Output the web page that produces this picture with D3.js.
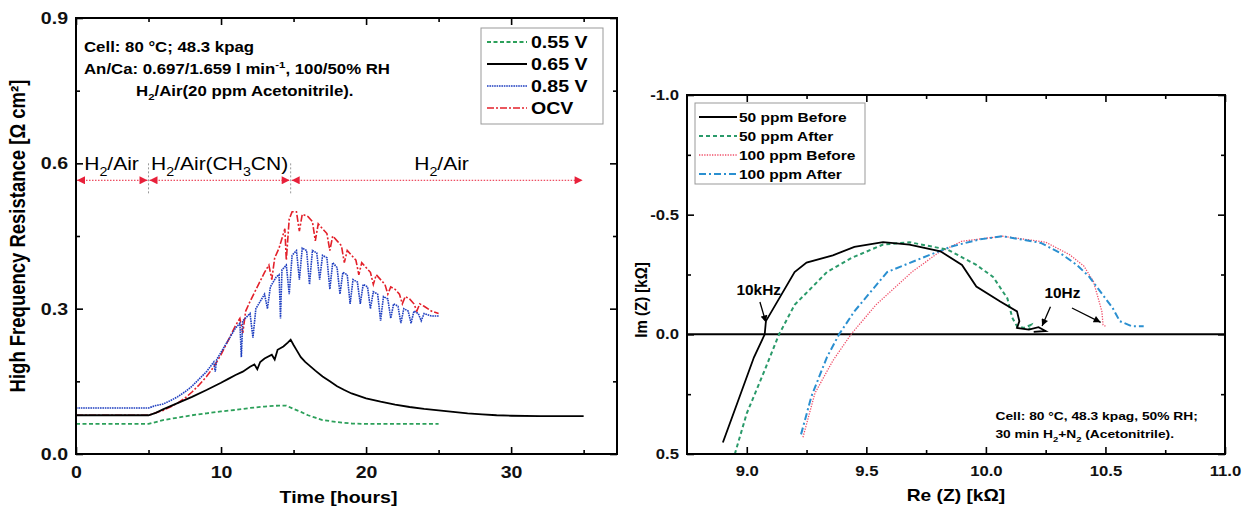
<!DOCTYPE html>
<html>
<head>
<meta charset="utf-8">
<script src="https://cdn.jsdelivr.net/npm/d3@7"></script>
<style>
  body { margin: 0; background: #fff; }
  svg { font-family: "Liberation Sans", Arial, sans-serif; }
</style>
</head>
<body>
<div id="container"></div>
<script>
// ---- left panel data: [time (h), HFR (ohm cm2)] ----
var hfr055 = [[0,0.062],[2,0.062],[5,0.062],[6,0.07],[7,0.075],[8,0.08],[9,0.084],[10,0.088],[11,0.091],[12,0.095],[13,0.098],[14,0.1],[14.5,0.1],[15,0.093],[15.5,0.087],[16,0.08],[16.5,0.075],[17,0.07],[18,0.066],[19,0.063],[20,0.062],[22,0.062],[25,0.062]];
var hfr065 = [[0,0.08],[5,0.08],[5.5,0.085],[6,0.092],[7,0.105],[8,0.118],[9,0.132],[10,0.147],[10.5,0.155],[11,0.163],[11.5,0.17],[12,0.18],[12.3,0.185],[12.5,0.175],[12.7,0.19],[13,0.197],[13.5,0.205],[13.7,0.195],[13.9,0.215],[14.3,0.222],[14.6,0.23],[14.8,0.236],[15,0.225],[15.2,0.215],[15.5,0.2],[15.8,0.19],[16,0.185],[16.5,0.172],[17,0.16],[17.5,0.15],[18,0.14],[18.5,0.132],[19,0.125],[19.5,0.12],[20,0.115],[21,0.108],[22,0.102],[23,0.097],[24,0.093],[25,0.09],[26,0.087],[27,0.084],[28,0.082],[29,0.08],[30,0.079],[32,0.078],[35,0.078]];
var hfr085 = [[0,0.095],[5,0.095],[5.5,0.1],[6,0.103],[6.5,0.11],[7,0.118],[7.5,0.128],[8,0.14],[8.5,0.155],[9,0.17],[9.5,0.19],[9.6,0.17],[9.7,0.195],[10,0.21],[10.5,0.235],[11,0.26],[11.3,0.27],[11.4,0.2],[11.5,0.275],[12,0.29],[12.2,0.24],[12.4,0.3],[12.8,0.32],[13,0.33],[13.2,0.3],[13.4,0.345],[13.8,0.365],[14,0.37],[14.1,0.28],[14.2,0.38],[14.5,0.39],[14.7,0.33],[14.9,0.41],[15.2,0.42],[15.4,0.36],[15.6,0.425],[15.9,0.42],[16.1,0.35],[16.3,0.42],[16.6,0.415],[16.8,0.36],[17,0.41],[17.3,0.405],[17.5,0.34],[17.7,0.395],[18,0.385],[18.2,0.33],[18.4,0.375],[18.7,0.37],[18.9,0.31],[19.1,0.36],[19.4,0.355],[19.6,0.31],[19.8,0.35],[20.1,0.345],[20.3,0.3],[20.5,0.335],[20.8,0.33],[21,0.275],[21.2,0.325],[21.5,0.32],[21.7,0.28],[21.9,0.31],[22.2,0.305],[22.4,0.27],[22.6,0.3],[22.9,0.295],[23.1,0.27],[23.3,0.295],[23.6,0.29],[23.8,0.275],[24,0.29],[24.5,0.285],[25,0.285]];
var hfrOCV = [[0,0.08],[5,0.08],[5.5,0.085],[6,0.09],[6.5,0.097],[7,0.105],[7.5,0.115],[8,0.128],[8.5,0.143],[9,0.16],[9.5,0.18],[10,0.205],[10.5,0.235],[11,0.265],[11.3,0.28],[11.5,0.25],[11.7,0.295],[12,0.315],[12.5,0.345],[13,0.375],[13.3,0.39],[13.5,0.36],[13.7,0.405],[14,0.425],[14.2,0.445],[14.4,0.465],[14.5,0.4],[14.7,0.485],[14.9,0.5],[15.2,0.5],[15.4,0.46],[15.6,0.495],[16,0.49],[16.3,0.48],[16.5,0.44],[16.7,0.475],[17,0.465],[17.3,0.455],[17.5,0.42],[17.7,0.45],[18,0.44],[18.3,0.43],[18.5,0.395],[18.7,0.42],[19,0.41],[19.3,0.4],[19.5,0.37],[19.7,0.395],[20,0.385],[20.3,0.375],[20.5,0.35],[20.7,0.37],[21,0.36],[21.3,0.35],[21.5,0.33],[21.7,0.345],[22,0.34],[22.3,0.33],[22.5,0.31],[22.7,0.325],[23,0.32],[23.3,0.31],[23.5,0.295],[23.7,0.31],[24,0.305],[24.5,0.295],[25,0.29]];
var phaseBounds = [0, 5, 14.8, 35]; // H2/Air | H2/Air(CH3CN) | H2/Air
var leftXTicks = [0, 10, 20, 30];
var leftYTicks = [0.0, 0.3, 0.6, 0.9];

// ---- right panel data: [Re(Z) kOhm, Im(Z) kOhm] ----
var ppm50Before = [[8.9,0.452],[8.96,0.288],[9.03,0.096],[9.075,0],[9.08,-0.055],[9.2,-0.26],[9.25,-0.3],[9.36,-0.33],[9.45,-0.365],[9.57,-0.385],[9.68,-0.375],[9.81,-0.347],[9.9,-0.29],[9.96,-0.2],[10.06,-0.137],[10.13,-0.096],[10.14,-0.055],[10.13,-0.027],[10.18,-0.02],[10.22,-0.03],[10.25,-0.014],[10.2,-0.01]];
var ppm50After = [[8.95,0.5],[9.0,0.33],[9.075,0.15],[9.135,0],[9.2,-0.123],[9.335,-0.26],[9.44,-0.32],[9.57,-0.375],[9.68,-0.385],[9.84,-0.354],[9.96,-0.29],[10.03,-0.24],[10.09,-0.15],[10.11,-0.07],[10.13,-0.034],[10.16,-0.027],[10.19,-0.04],[10.18,-0.02]];
var ppm100Before = [[9.235,0.43],[9.285,0.246],[9.36,0.11],[9.436,0],[9.54,-0.123],[9.69,-0.26],[9.8,-0.34],[9.9,-0.389],[10.07,-0.41],[10.25,-0.385],[10.35,-0.333],[10.41,-0.285],[10.45,-0.22],[10.47,-0.15],[10.485,-0.096],[10.49,-0.04],[10.5,-0.034]];
var ppm100After = [[9.227,0.418],[9.27,0.26],[9.335,0.096],[9.386,0],[9.45,-0.096],[9.587,-0.26],[9.76,-0.33],[9.86,-0.368],[9.97,-0.396],[10.07,-0.41],[10.23,-0.382],[10.31,-0.34],[10.38,-0.29],[10.43,-0.243],[10.47,-0.19],[10.53,-0.11],[10.56,-0.055],[10.61,-0.034],[10.66,-0.034]];
var rightXTicks = [9.0, 9.5, 10.0, 10.5, 11.0];
var rightYTicks = [-1.0, -0.5, 0.0, 0.5];

var STRETCH = 1.2; // the figure's lettering is a bit wider than Arial

var svg = d3.select("#container").append("svg")
    .attr("width", 1252)
    .attr("height", 509);
svg.append("rect").attr("width", 1252).attr("height", 509).attr("fill", "#fff");

var defs = svg.append("defs");
defs.append("marker")
    .attr("id", "redArrow")
    .attr("viewBox", "0 0 10 10")
    .attr("refX", 10).attr("refY", 5)
    .attr("markerWidth", 12).attr("markerHeight", 8)
    .attr("markerUnits", "userSpaceOnUse")
    .attr("orient", "auto-start-reverse")
    .append("path").attr("d", "M0,0 L10,5 L0,10 z").attr("fill", "#e8203a");
defs.append("marker")
    .attr("id", "blackArrow")
    .attr("viewBox", "0 0 10 10")
    .attr("refX", 10).attr("refY", 5)
    .attr("markerWidth", 9).attr("markerHeight", 7)
    .attr("markerUnits", "userSpaceOnUse")
    .attr("orient", "auto")
    .append("path").attr("d", "M0,0 L10,5 L0,10 z").attr("fill", "#000");

// move x/y of a text into a transform so it can be widened
function widen(sel, k) {
    sel.each(function () {
        var t = d3.select(this);
        var x = +t.attr("x") || 0, y = +t.attr("y") || 0;
        t.attr("x", 0).attr("y", 0)
            .attr("transform", "translate(" + x + "," + y + ") scale(" + k + ",1)");
    });
}

// text with sub/superscripts: parts = [[str, "sub"|"sup"|null], ...]
function richText(g, x, y, parts, size, weight, anchor) {
    var t = g.append("text")
        .attr("x", x).attr("y", y)
        .attr("font-size", size)
        .attr("font-weight", weight || "normal")
        .attr("text-anchor", anchor || "start");
    var shift = 0;
    parts.forEach(function (p) {
        var target = p[1] == "sub" ? size * 0.3 : (p[1] == "sup" ? -size * 0.4 : 0);
        t.append("tspan")
            .attr("dy", target - shift)
            .attr("font-size", p[1] ? size * 0.68 : size)
            .text(p[0]);
        shift = target;
    });
    widen(t, STRETCH);
    return t;
}

// boxed frame with inward ticks on all four sides
function frameAxes(g, x, y, w, h, xMajor, xMinor, yMajor, yMinor, fmtX, fmtY, fs) {
    g.append("g").attr("transform", "translate(0," + h + ")")
        .call(d3.axisBottom(x).tickValues(xMinor).tickSize(-4).tickFormat(""));
    g.append("g")
        .call(d3.axisTop(x).tickValues(xMinor).tickSize(-4).tickFormat(""));
    g.append("g")
        .call(d3.axisLeft(y).tickValues(yMinor).tickSize(-4).tickFormat(""));
    g.append("g").attr("transform", "translate(" + w + ",0)")
        .call(d3.axisRight(y).tickValues(yMinor).tickSize(-4).tickFormat(""));
    var xa = g.append("g").attr("transform", "translate(0," + h + ")")
        .call(d3.axisBottom(x).tickValues(xMajor).tickSizeInner(-7).tickSizeOuter(0).tickPadding(9).tickFormat(fmtX));
    g.append("g")
        .call(d3.axisTop(x).tickValues(xMajor).tickSize(-7).tickFormat(""));
    var ya = g.append("g")
        .call(d3.axisLeft(y).tickValues(yMajor).tickSizeInner(-7).tickSizeOuter(0).tickPadding(8).tickFormat(fmtY));
    g.append("g").attr("transform", "translate(" + w + ",0)")
        .call(d3.axisRight(y).tickValues(yMajor).tickSize(-7).tickFormat(""));
    g.selectAll(".domain").remove();
    g.selectAll(".tick line").attr("stroke", "#000").attr("stroke-width", 1.6);
    g.selectAll(".tick text")
        .attr("font-family", "Liberation Sans, Arial, sans-serif")
        .attr("font-size", fs).attr("font-weight", "bold").attr("fill", "#111");
    xa.selectAll(".tick text").attr("dy", "0.9em");
    widen(xa.selectAll(".tick text"), 1.15);
    widen(ya.selectAll(".tick text"), 1.15);
    g.append("rect").attr("width", w).attr("height", h)
        .attr("fill", "none").attr("stroke", "#000").attr("stroke-width", 2);
}

// ================= LEFT PANEL =================
var L = { left: 76, top: 18, width: 541, height: 436 };
var left = svg.append("g").attr("transform", "translate(" + L.left + "," + L.top + ")");
var xL = d3.scaleLinear().domain([0, 37.3]).range([0, L.width]);
var yL = d3.scaleLinear().domain([0, 0.9]).range([L.height, 0]);

var lineL = d3.line().x(function (d) { return xL(d[0]); }).y(function (d) { return yL(d[1]); });

var seriesL = [
    { name: "0.55 V", data: hfr055, color: "#2ca05a", dash: "4,2.5", w: 1.8 },
    { name: "0.65 V", data: hfr065, color: "#000", dash: null, w: 1.8 },
    { name: "0.85 V", data: hfr085, color: "#1f3fc0", dash: "1.6,0.8", w: 1.6 },
    { name: "OCV", data: hfrOCV, color: "#e3202a", dash: "7,2,2,2", w: 1.6 }
];
// blue drawn over red like in the figure
[seriesL[3], seriesL[2], seriesL[0], seriesL[1]].forEach(function (s) {
    left.append("path")
        .datum(s.data)
        .attr("d", lineL)
        .attr("fill", "none")
        .attr("stroke", s.color)
        .attr("stroke-width", s.w)
        .attr("stroke-dasharray", s.dash);
});

frameAxes(left, xL, yL, L.width, L.height,
    leftXTicks, [5, 15, 25, 35], leftYTicks, [0.15, 0.45, 0.75],
    d3.format("d"), d3.format(".1f"), 17);

// phase arrows
var phaseY = 0.565;
for (var i = 0; i < phaseBounds.length - 1; i++) {
    left.append("line")
        .attr("x1", xL(phaseBounds[i]) + 1).attr("x2", xL(phaseBounds[i + 1]) - 1)
        .attr("y1", yL(phaseY)).attr("y2", yL(phaseY))
        .attr("stroke", "#e8203a").attr("stroke-width", 1)
        .attr("stroke-dasharray", "1.5,1.5")
        .attr("marker-start", "url(#redArrow)")
        .attr("marker-end", "url(#redArrow)");
}
[phaseBounds[1], phaseBounds[2]].forEach(function (b) {
    left.append("line")
        .attr("x1", xL(b)).attr("x2", xL(b))
        .attr("y1", yL(0.6)).attr("y2", yL(0.535))
        .attr("stroke", "#999").attr("stroke-width", 1)
        .attr("stroke-dasharray", "2,2");
});
richText(left, xL(2.45), yL(0.6) + 7, [["H", null], ["2", "sub"], ["/Air", null]], 17.5, "normal", "middle");
richText(left, xL(9.9), yL(0.6) + 7, [["H", null], ["2", "sub"], ["/Air(CH", null], ["3", "sub"], ["CN)", null]], 17.5, "normal", "middle");
richText(left, xL(25.2), yL(0.6) + 7, [["H", null], ["2", "sub"], ["/Air", null]], 17.5, "normal", "middle");

// condition text
richText(left, 8, 34, [["Cell: 80 °C; 48.3 kpag", null]], 14, "bold");
richText(left, 8, 56, [["An/Ca: 0.697/1.659 l min", null], ["-1", "sup"], [", 100/50% RH", null]], 14, "bold");
richText(left, 60, 78, [["H", null], ["2", "sub"], ["/Air(20 ppm Acetonitrile).", null]], 14, "bold");

// legend
var legL = left.append("g").attr("transform", "translate(405,10)");
legL.append("rect").attr("width", 122).attr("height", 96)
    .attr("fill", "#fff").attr("stroke", "#999").attr("stroke-width", 1);
seriesL.forEach(function (s, i) {
    var yy = 14 + i * 22;
    legL.append("line").attr("x1", 6).attr("x2", 46).attr("y1", yy).attr("y2", yy)
        .attr("stroke", s.color).attr("stroke-width", s.w).attr("stroke-dasharray", s.dash);
    var t = legL.append("text").attr("x", 50).attr("y", yy + 6)
        .attr("font-size", 17).attr("font-weight", "bold").text(s.name);
    widen(t, 1.15);
});

// axis titles
svg.append("text")
    .attr("transform", "translate(25," + (L.top + L.height / 2) + ") rotate(-90) scale(1,1.15)")
    .attr("text-anchor", "middle")
    .attr("font-size", 18.5).attr("font-weight", "bold")
    .text("High Frequency Resistance [Ω cm²]");
var tx = svg.append("text")
    .attr("x", L.left + xL(18.1)).attr("y", 503)
    .attr("text-anchor", "middle")
    .attr("font-size", 17).attr("font-weight", "bold")
    .text("Time [hours]");
widen(tx, 1.15);

// ================= RIGHT PANEL =================
var R = { left: 687, top: 95, width: 538, height: 359 };
var right = svg.append("g").attr("transform", "translate(" + R.left + "," + R.top + ")");
var xR = d3.scaleLinear().domain([8.75, 11.0]).range([0, R.width]);
var yR = d3.scaleLinear().domain([-1.0, 0.5]).range([0, R.height]);

var lineR = d3.line().x(function (d) { return xR(d[0]); }).y(function (d) { return yR(d[1]); });

right.append("line")
    .attr("x1", 0).attr("x2", R.width)
    .attr("y1", yR(0)).attr("y2", yR(0))
    .attr("stroke", "#000").attr("stroke-width", 2);

var seriesR = [
    { name: "50 ppm Before", data: ppm50Before, color: "#000", dash: null, w: 1.8 },
    { name: "50 ppm After", data: ppm50After, color: "#2a9a6a", dash: "4,3", w: 2 },
    { name: "100 ppm Before", data: ppm100Before, color: "#f0506a", dash: "1.3,1.3", w: 1.3 },
    { name: "100 ppm After", data: ppm100After, color: "#2a8fd0", dash: "7,3,2,3", w: 2 }
];
[seriesR[2], seriesR[3], seriesR[1], seriesR[0]].forEach(function (s) {
    right.append("path")
        .datum(s.data)
        .attr("d", lineR)
        .attr("fill", "none")
        .attr("stroke", s.color)
        .attr("stroke-width", s.w)
        .attr("stroke-dasharray", s.dash);
});

var fmt1 = function (d) { return d.toFixed(1); }; // plain hyphen minus like the figure
frameAxes(right, xR, yR, R.width, R.height,
    rightXTicks, [9.25, 9.75, 10.25, 10.75], rightYTicks, [-0.75, -0.25, 0.25],
    fmt1, fmt1, 14.5);

// frequency annotations
var fk = right.append("text").attr("x", xR(9.05)).attr("y", yR(-0.165))
    .attr("text-anchor", "middle").attr("font-size", 14).attr("font-weight", "bold").text("10kHz");
widen(fk, 1.1);
right.append("line")
    .attr("x1", xR(9.055)).attr("y1", yR(-0.135))
    .attr("x2", xR(9.08)).attr("y2", yR(-0.05))
    .attr("stroke", "#000").attr("stroke-width", 1.3)
    .attr("marker-end", "url(#blackArrow)");
var fh = right.append("text").attr("x", xR(10.32)).attr("y", yR(-0.15))
    .attr("text-anchor", "middle").attr("font-size", 14).attr("font-weight", "bold").text("10Hz");
widen(fh, 1.1);
right.append("line")
    .attr("x1", xR(10.27)).attr("y1", yR(-0.115))
    .attr("x2", xR(10.235)).attr("y2", yR(-0.035))
    .attr("stroke", "#000").attr("stroke-width", 1.3)
    .attr("marker-end", "url(#blackArrow)");
right.append("line")
    .attr("x1", xR(10.36)).attr("y1", yR(-0.11))
    .attr("x2", xR(10.48)).attr("y2", yR(-0.05))
    .attr("stroke", "#000").attr("stroke-width", 1.3)
    .attr("marker-end", "url(#blackArrow)");

// condition text
richText(right, xR(10.04), yR(0.36), [["Cell: 80 °C,  48.3 kpag, 50% RH;", null]], 11.5, "bold");
richText(right, xR(10.04), yR(0.435), [["30 min H", null], ["2", "sub"], ["+N", null], ["2", "sub"], [" (Acetonitrile).", null]], 11.5, "bold");

// legend
var legR = right.append("g").attr("transform", "translate(8,8)");
legR.append("rect").attr("width", 170).attr("height", 81)
    .attr("fill", "#fff").attr("stroke", "#999").attr("stroke-width", 1);
seriesR.forEach(function (s, i) {
    var yy = 14 + i * 19;
    legR.append("line").attr("x1", 4).attr("x2", 42).attr("y1", yy).attr("y2", yy)
        .attr("stroke", s.color).attr("stroke-width", s.w).attr("stroke-dasharray", s.dash);
    var t = legR.append("text").attr("x", 44).attr("y", yy + 5)
        .attr("font-size", 13.5).attr("font-weight", "bold").text(s.name);
    widen(t, 1.15);
});

// axis titles
svg.append("text")
    .attr("transform", "translate(647," + 300 + ") rotate(-90) scale(1,1.15)")
    .attr("text-anchor", "middle")
    .attr("font-size", 15).attr("font-weight", "bold")
    .text("Im (Z) [kΩ]");
var rx = svg.append("text")
    .attr("x", R.left + R.width / 2).attr("y", 501)
    .attr("text-anchor", "middle")
    .attr("font-size", 16).attr("font-weight", "bold")
    .text("Re (Z) [kΩ]");
widen(rx, 1.2);
</script>
</body>
</html>
